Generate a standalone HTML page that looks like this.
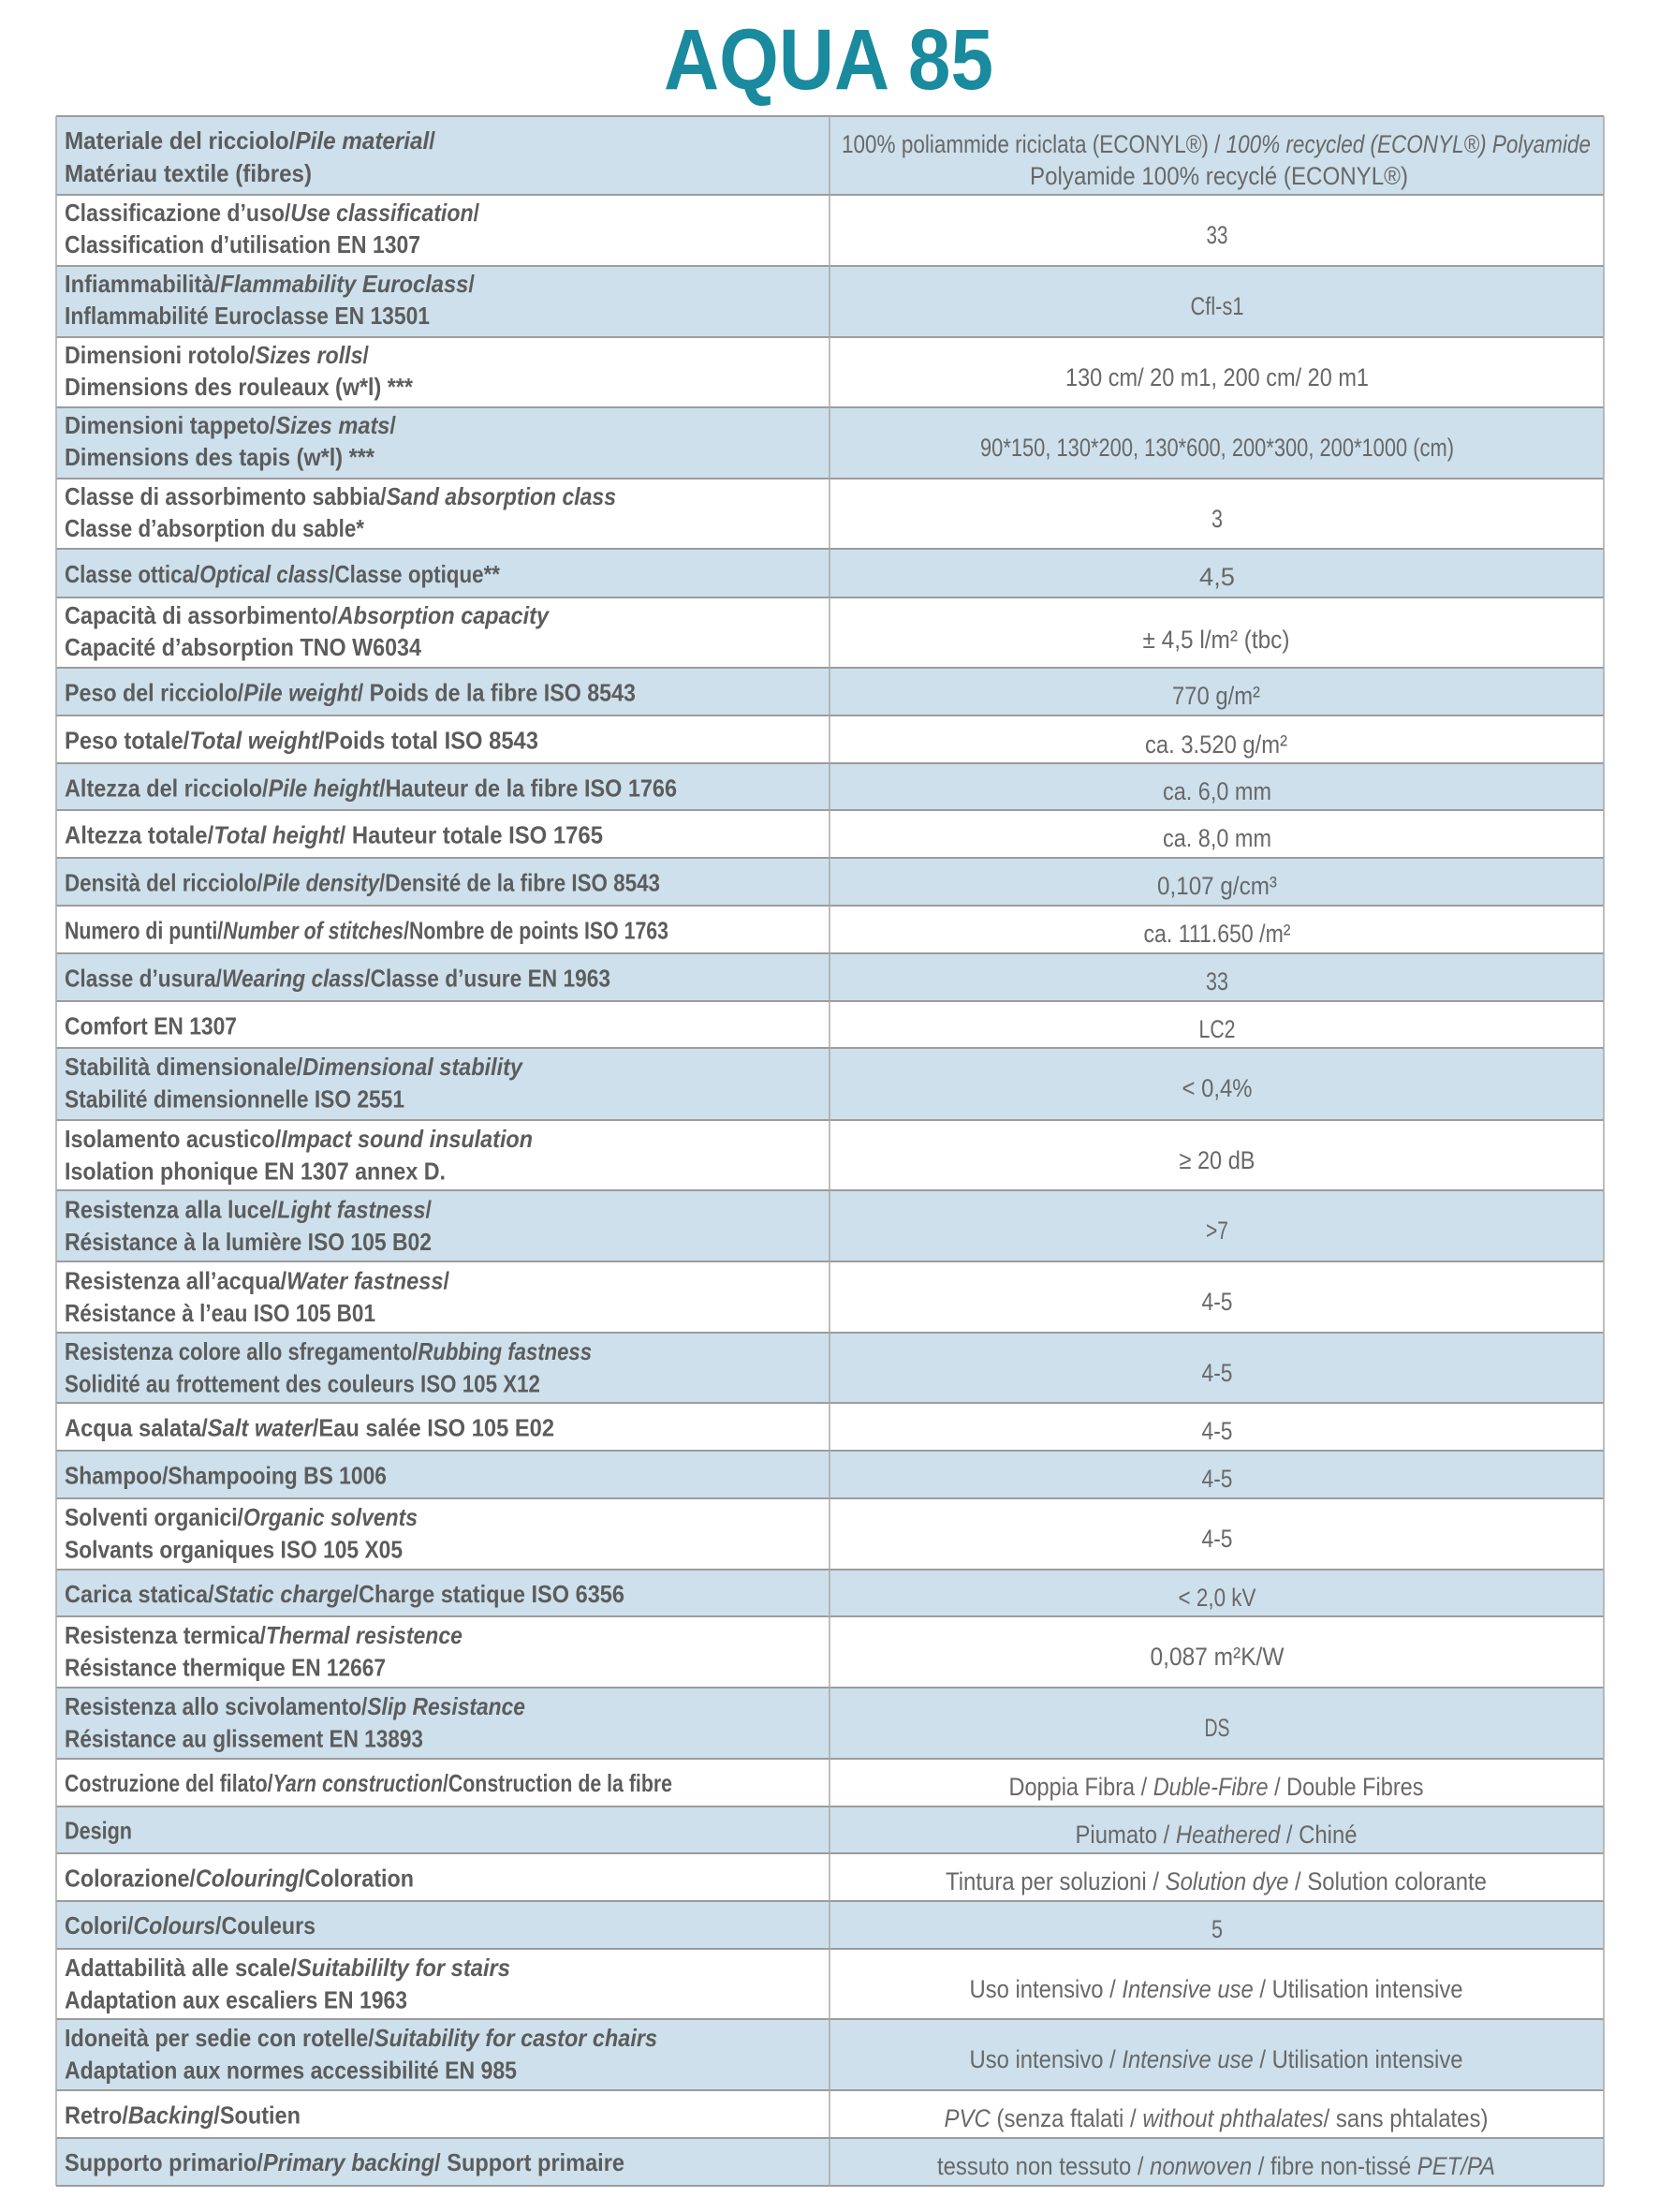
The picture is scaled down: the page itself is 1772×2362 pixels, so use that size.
<!DOCTYPE html>
<html><head><meta charset="utf-8"><style>
html,body{margin:0;padding:0;background:#fff;width:1772px;height:2362px;overflow:hidden}
svg{display:block}
.l{font-family:"Liberation Sans",sans-serif;font-weight:bold;font-size:26px;fill:#5c5c5c}
.r{font-family:"Liberation Sans",sans-serif;font-weight:normal;font-size:27px;fill:#686868}
.i{font-style:italic}
</style></head><body>
<svg width="1772" height="2362" viewBox="0 0 1772 2362" xmlns="http://www.w3.org/2000/svg">
<rect x="0" y="0" width="1772" height="2362" fill="#fff"/>
<text x="709" y="95" textLength="352" lengthAdjust="spacingAndGlyphs" style="font-family:'Liberation Sans',sans-serif;font-weight:bold;font-size:92px;fill:#1a8a9e">AQUA 85</text>
<g fill="#cde0ec">
<rect x="60" y="124" width="1653" height="84"/>
<rect x="60" y="284" width="1653" height="76"/>
<rect x="60" y="435" width="1653" height="76"/>
<rect x="60" y="586" width="1653" height="52"/>
<rect x="60" y="713" width="1653" height="51"/>
<rect x="60" y="815" width="1653" height="50"/>
<rect x="60" y="916" width="1653" height="51"/>
<rect x="60" y="1018" width="1653" height="51"/>
<rect x="60" y="1119" width="1653" height="77"/>
<rect x="60" y="1271" width="1653" height="76"/>
<rect x="60" y="1423" width="1653" height="75"/>
<rect x="60" y="1549" width="1653" height="51"/>
<rect x="60" y="1676" width="1653" height="50"/>
<rect x="60" y="1802" width="1653" height="76"/>
<rect x="60" y="1929" width="1653" height="50"/>
<rect x="60" y="2030" width="1653" height="51"/>
<rect x="60" y="2156" width="1653" height="76"/>
<rect x="60" y="2283" width="1653" height="51"/>
</g>
<g stroke="#9c9c9c" stroke-width="2">
<line x1="60" x2="1713" y1="124" y2="124"/><line x1="60" x2="1713" y1="208" y2="208"/>
<line x1="60" x2="1713" y1="284" y2="284"/><line x1="60" x2="1713" y1="360" y2="360"/>
<line x1="60" x2="1713" y1="435" y2="435"/><line x1="60" x2="1713" y1="511" y2="511"/>
<line x1="60" x2="1713" y1="586" y2="586"/><line x1="60" x2="1713" y1="638" y2="638"/>
<line x1="60" x2="1713" y1="713" y2="713"/><line x1="60" x2="1713" y1="764" y2="764"/>
<line x1="60" x2="1713" y1="815" y2="815"/><line x1="60" x2="1713" y1="865" y2="865"/>
<line x1="60" x2="1713" y1="916" y2="916"/><line x1="60" x2="1713" y1="967" y2="967"/>
<line x1="60" x2="1713" y1="1018" y2="1018"/><line x1="60" x2="1713" y1="1069" y2="1069"/>
<line x1="60" x2="1713" y1="1119" y2="1119"/><line x1="60" x2="1713" y1="1196" y2="1196"/>
<line x1="60" x2="1713" y1="1271" y2="1271"/><line x1="60" x2="1713" y1="1347" y2="1347"/>
<line x1="60" x2="1713" y1="1423" y2="1423"/><line x1="60" x2="1713" y1="1498" y2="1498"/>
<line x1="60" x2="1713" y1="1549" y2="1549"/><line x1="60" x2="1713" y1="1600" y2="1600"/>
<line x1="60" x2="1713" y1="1676" y2="1676"/><line x1="60" x2="1713" y1="1726" y2="1726"/>
<line x1="60" x2="1713" y1="1802" y2="1802"/><line x1="60" x2="1713" y1="1878" y2="1878"/>
<line x1="60" x2="1713" y1="1929" y2="1929"/><line x1="60" x2="1713" y1="1979" y2="1979"/>
<line x1="60" x2="1713" y1="2030" y2="2030"/><line x1="60" x2="1713" y1="2081" y2="2081"/>
<line x1="60" x2="1713" y1="2156" y2="2156"/><line x1="60" x2="1713" y1="2232" y2="2232"/>
<line x1="60" x2="1713" y1="2283" y2="2283"/><line x1="60" x2="1713" y1="2334" y2="2334"/>
</g>
<g stroke="#a8a8a8" stroke-width="1.5">
<line x1="60" x2="60" y1="124" y2="2334"/>
<line x1="886" x2="886" y1="124" y2="2334"/>
<line x1="1713" x2="1713" y1="124" y2="2334"/>
</g>

<g class="l">
<text x="69" y="159" textLength="396" lengthAdjust="spacingAndGlyphs">Materiale del ricciolo/<tspan class="i">Pile material</tspan>/</text>
<text x="69" y="194" textLength="264" lengthAdjust="spacingAndGlyphs">Matériau textile (fibres)</text>
<text x="69" y="236" textLength="443" lengthAdjust="spacingAndGlyphs">Classificazione d’uso/<tspan class="i">Use classification</tspan>/</text>
<text x="69" y="270" textLength="380" lengthAdjust="spacingAndGlyphs">Classification d’utilisation EN 1307</text>
<text x="69" y="312" textLength="438" lengthAdjust="spacingAndGlyphs">Infiammabilità/<tspan class="i">Flammability Euroclass</tspan>/</text>
<text x="69" y="346" textLength="390" lengthAdjust="spacingAndGlyphs">Inflammabilité Euroclasse EN 13501</text>
<text x="69" y="388" textLength="325" lengthAdjust="spacingAndGlyphs">Dimensioni rotolo/<tspan class="i">Sizes rolls</tspan>/</text>
<text x="69" y="422" textLength="372" lengthAdjust="spacingAndGlyphs">Dimensions des rouleaux (w*l) ***</text>
<text x="69" y="463" textLength="354" lengthAdjust="spacingAndGlyphs">Dimensioni tappeto/<tspan class="i">Sizes mats</tspan>/</text>
<text x="69" y="497" textLength="331" lengthAdjust="spacingAndGlyphs">Dimensions des tapis (w*l) ***</text>
<text x="69" y="539" textLength="589" lengthAdjust="spacingAndGlyphs">Classe di assorbimento sabbia/<tspan class="i">Sand absorption class</tspan></text>
<text x="69" y="573" textLength="320" lengthAdjust="spacingAndGlyphs">Classe d’absorption du sable*</text>
<text x="69" y="622" textLength="465" lengthAdjust="spacingAndGlyphs">Classe ottica/<tspan class="i">Optical class</tspan>/Classe optique**</text>
<text x="69" y="666" textLength="517" lengthAdjust="spacingAndGlyphs">Capacità di assorbimento/<tspan class="i">Absorption capacity</tspan></text>
<text x="69" y="700" textLength="381" lengthAdjust="spacingAndGlyphs">Capacité d’absorption TNO W6034</text>
<text x="69" y="748.5" textLength="610" lengthAdjust="spacingAndGlyphs">Peso del ricciolo/<tspan class="i">Pile weight</tspan>/ Poids de la fibre ISO 8543</text>
<text x="69" y="799.5" textLength="506" lengthAdjust="spacingAndGlyphs">Peso totale/<tspan class="i">Total weight</tspan>/Poids total ISO 8543</text>
<text x="69" y="850.5" textLength="654" lengthAdjust="spacingAndGlyphs">Altezza del ricciolo/<tspan class="i">Pile height</tspan>/Hauteur de la fibre ISO 1766</text>
<text x="69" y="900.5" textLength="575" lengthAdjust="spacingAndGlyphs">Altezza totale/<tspan class="i">Total height</tspan>/ Hauteur totale ISO 1765</text>
<text x="69" y="951.5" textLength="636" lengthAdjust="spacingAndGlyphs">Densità del ricciolo/<tspan class="i">Pile density</tspan>/Densité de la fibre ISO 8543</text>
<text x="69" y="1002.5" textLength="645" lengthAdjust="spacingAndGlyphs">Numero di punti/<tspan class="i">Number of stitches</tspan>/Nombre de points ISO 1763</text>
<text x="69" y="1053.5" textLength="583" lengthAdjust="spacingAndGlyphs">Classe d’usura/<tspan class="i">Wearing class</tspan>/Classe d’usure EN 1963</text>
<text x="69" y="1104.5" textLength="184" lengthAdjust="spacingAndGlyphs">Comfort EN 1307</text>
<text x="69" y="1148" textLength="489" lengthAdjust="spacingAndGlyphs">Stabilità dimensionale/<tspan class="i">Dimensional stability</tspan></text>
<text x="69" y="1182.5" textLength="363" lengthAdjust="spacingAndGlyphs">Stabilité dimensionnelle ISO 2551</text>
<text x="69" y="1225" textLength="500" lengthAdjust="spacingAndGlyphs">Isolamento acustico/<tspan class="i">Impact sound insulation</tspan></text>
<text x="69" y="1259.5" textLength="407" lengthAdjust="spacingAndGlyphs">Isolation phonique EN 1307 annex D.</text>
<text x="69" y="1300.5" textLength="392" lengthAdjust="spacingAndGlyphs">Resistenza alla luce/<tspan class="i">Light fastness</tspan>/</text>
<text x="69" y="1335" textLength="392" lengthAdjust="spacingAndGlyphs">Résistance à la lumière ISO 105 B02</text>
<text x="69" y="1376.5" textLength="411" lengthAdjust="spacingAndGlyphs">Resistenza all’acqua/<tspan class="i">Water fastness</tspan>/</text>
<text x="69" y="1411" textLength="332" lengthAdjust="spacingAndGlyphs">Résistance à l’eau ISO 105 B01</text>
<text x="69" y="1452" textLength="563" lengthAdjust="spacingAndGlyphs">Resistenza colore allo sfregamento/<tspan class="i">Rubbing fastness</tspan></text>
<text x="69" y="1486.5" textLength="508" lengthAdjust="spacingAndGlyphs">Solidité au frottement des couleurs ISO 105 X12</text>
<text x="69" y="1533.5" textLength="523" lengthAdjust="spacingAndGlyphs">Acqua salata/<tspan class="i">Salt water</tspan>/Eau salée ISO 105 E02</text>
<text x="69" y="1584.5" textLength="344" lengthAdjust="spacingAndGlyphs">Shampoo/Shampooing BS 1006</text>
<text x="69" y="1629" textLength="377" lengthAdjust="spacingAndGlyphs">Solventi organici/<tspan class="i">Organic solvents</tspan></text>
<text x="69" y="1663.5" textLength="361" lengthAdjust="spacingAndGlyphs">Solvants organiques ISO 105 X05</text>
<text x="69" y="1711" textLength="598" lengthAdjust="spacingAndGlyphs">Carica statica/<tspan class="i">Static charge</tspan>/Charge statique ISO 6356</text>
<text x="69" y="1755" textLength="425" lengthAdjust="spacingAndGlyphs">Resistenza termica/<tspan class="i">Thermal resistence</tspan></text>
<text x="69" y="1789.5" textLength="343" lengthAdjust="spacingAndGlyphs">Résistance thermique EN 12667</text>
<text x="69" y="1831" textLength="492" lengthAdjust="spacingAndGlyphs">Resistenza allo scivolamento/<tspan class="i">Slip Resistance</tspan></text>
<text x="69" y="1865.5" textLength="383" lengthAdjust="spacingAndGlyphs">Résistance au glissement EN 13893</text>
<text x="69" y="1913" textLength="649" lengthAdjust="spacingAndGlyphs">Costruzione del filato/<tspan class="i">Yarn construction</tspan>/Construction de la fibre</text>
<text x="69" y="1963.5" textLength="72" lengthAdjust="spacingAndGlyphs">Design</text>
<text x="69" y="2014.5" textLength="373" lengthAdjust="spacingAndGlyphs">Colorazione/<tspan class="i">Colouring</tspan>/Coloration</text>
<text x="69" y="2065" textLength="268" lengthAdjust="spacingAndGlyphs">Colori/<tspan class="i">Colours</tspan>/Couleurs</text>
<text x="69" y="2110" textLength="476" lengthAdjust="spacingAndGlyphs">Adattabilità alle scale/<tspan class="i">Suitabililty for stairs</tspan></text>
<text x="69" y="2144.5" textLength="366" lengthAdjust="spacingAndGlyphs">Adaptation aux escaliers EN 1963</text>
<text x="69" y="2185" textLength="633" lengthAdjust="spacingAndGlyphs">Idoneità per sedie con rotelle/<tspan class="i">Suitability for castor chairs</tspan></text>
<text x="69" y="2219.5" textLength="483" lengthAdjust="spacingAndGlyphs">Adaptation aux normes accessibilité EN 985</text>
<text x="69" y="2267.5" textLength="252" lengthAdjust="spacingAndGlyphs">Retro/<tspan class="i">Backing</tspan>/Soutien</text>
<text x="69" y="2318" textLength="598" lengthAdjust="spacingAndGlyphs">Supporto primario/<tspan class="i">Primary backing</tspan>/ Support primaire</text>
</g>

<g class="r" text-anchor="middle">
<text x="1299" y="163" textLength="800" lengthAdjust="spacingAndGlyphs">100% poliammide riciclata (ECONYL®) / <tspan class="i">100% recycled (ECONYL®) Polyamide</tspan></text>
<text x="1302" y="197" textLength="404" lengthAdjust="spacingAndGlyphs">Polyamide 100% recyclé (ECONYL®)</text>
<text x="1300" y="260" textLength="23" lengthAdjust="spacingAndGlyphs">33</text>
<text x="1300" y="336" textLength="57" lengthAdjust="spacingAndGlyphs">Cfl-s1</text>
<text x="1300" y="412" textLength="324" lengthAdjust="spacingAndGlyphs">130 cm/ 20 m1, 200 cm/ 20 m1</text>
<text x="1300" y="487" textLength="506" lengthAdjust="spacingAndGlyphs">90*150, 130*200, 130*600, 200*300, 200*1000 (cm)</text>
<text x="1300" y="563" textLength="12" lengthAdjust="spacingAndGlyphs">3</text>
<text x="1300" y="625" textLength="38" lengthAdjust="spacingAndGlyphs">4,5</text>
<text x="1299" y="692" textLength="157" lengthAdjust="spacingAndGlyphs">± 4,5 l/m² (tbc)</text>
<text x="1299" y="752" textLength="94" lengthAdjust="spacingAndGlyphs">770 g/m²</text>
<text x="1299" y="804" textLength="152" lengthAdjust="spacingAndGlyphs">ca. 3.520 g/m²</text>
<text x="1300" y="854" textLength="116" lengthAdjust="spacingAndGlyphs">ca. 6,0 mm</text>
<text x="1300" y="904" textLength="116" lengthAdjust="spacingAndGlyphs">ca. 8,0 mm</text>
<text x="1300" y="955" textLength="128" lengthAdjust="spacingAndGlyphs">0,107 g/cm³</text>
<text x="1300" y="1006" textLength="157" lengthAdjust="spacingAndGlyphs">ca. 111.650 /m²</text>
<text x="1300" y="1057" textLength="24" lengthAdjust="spacingAndGlyphs">33</text>
<text x="1300" y="1108" textLength="39" lengthAdjust="spacingAndGlyphs">LC2</text>
<text x="1300" y="1171" textLength="75" lengthAdjust="spacingAndGlyphs">&lt; 0,4%</text>
<text x="1300" y="1248" textLength="81" lengthAdjust="spacingAndGlyphs">≥ 20 dB</text>
<text x="1300" y="1323" textLength="24" lengthAdjust="spacingAndGlyphs">&gt;7</text>
<text x="1300" y="1399" textLength="33" lengthAdjust="spacingAndGlyphs">4-5</text>
<text x="1300" y="1475" textLength="33" lengthAdjust="spacingAndGlyphs">4-5</text>
<text x="1300" y="1537" textLength="33" lengthAdjust="spacingAndGlyphs">4-5</text>
<text x="1300" y="1588" textLength="33" lengthAdjust="spacingAndGlyphs">4-5</text>
<text x="1300" y="1652" textLength="33" lengthAdjust="spacingAndGlyphs">4-5</text>
<text x="1300" y="1715" textLength="83" lengthAdjust="spacingAndGlyphs">&lt; 2,0 kV</text>
<text x="1300" y="1778" textLength="143" lengthAdjust="spacingAndGlyphs">0,087 m²K/W</text>
<text x="1300" y="1854" textLength="27" lengthAdjust="spacingAndGlyphs">DS</text>
<text x="1299" y="1917" textLength="443" lengthAdjust="spacingAndGlyphs">Doppia Fibra / <tspan class="i">Duble-Fibre</tspan> / Double Fibres</text>
<text x="1299" y="1968" textLength="301" lengthAdjust="spacingAndGlyphs">Piumato / <tspan class="i">Heathered</tspan> / Chiné</text>
<text x="1299" y="2018" textLength="578" lengthAdjust="spacingAndGlyphs">Tintura per soluzioni / <tspan class="i">Solution dye</tspan> / Solution colorante</text>
<text x="1300" y="2069" textLength="12" lengthAdjust="spacingAndGlyphs">5</text>
<text x="1299" y="2133" textLength="527" lengthAdjust="spacingAndGlyphs">Uso intensivo / <tspan class="i">Intensive use</tspan> / Utilisation intensive</text>
<text x="1299" y="2208" textLength="527" lengthAdjust="spacingAndGlyphs">Uso intensivo / <tspan class="i">Intensive use</tspan> / Utilisation intensive</text>
<text x="1299" y="2271" textLength="581" lengthAdjust="spacingAndGlyphs"><tspan class="i">PVC</tspan> (senza ftalati / <tspan class="i">without phthalates</tspan>/ sans phtalates)</text>
<text x="1299" y="2322" textLength="596" lengthAdjust="spacingAndGlyphs">tessuto non tessuto / <tspan class="i">nonwoven</tspan> /  fibre non-tissé <tspan class="i">PET/PA</tspan></text>
</g>
</svg>
</body></html>
